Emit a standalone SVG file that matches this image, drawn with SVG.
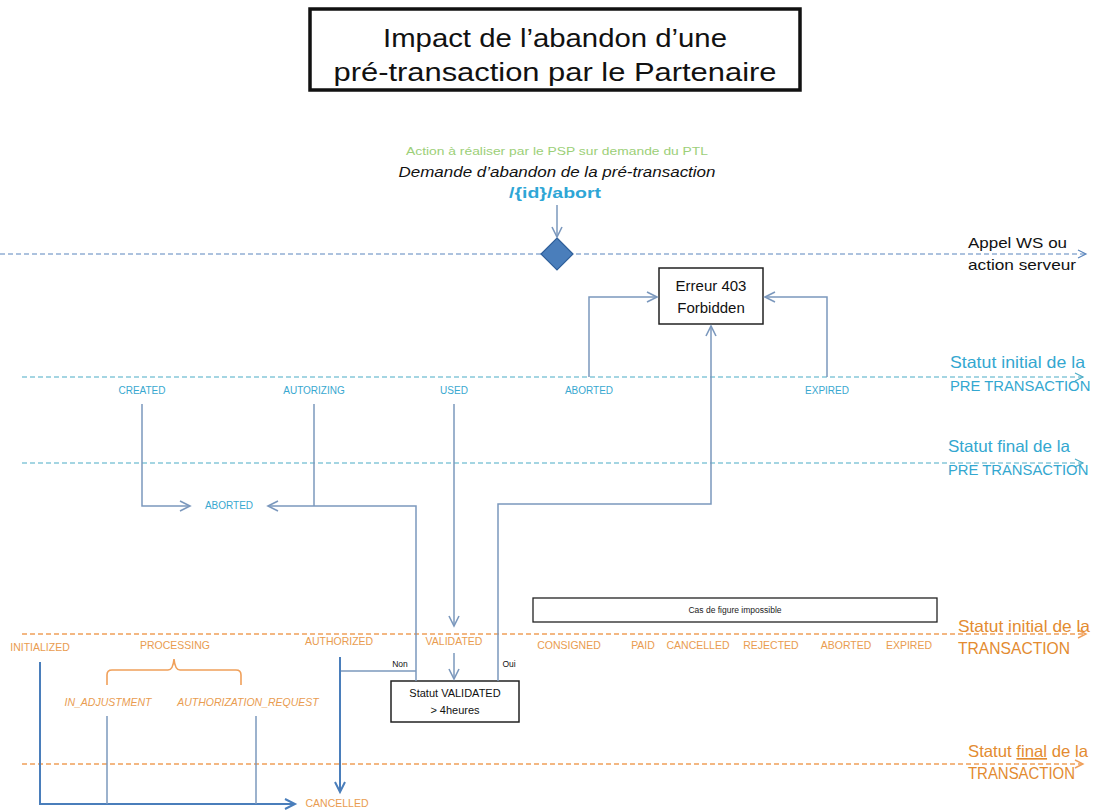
<svg xmlns="http://www.w3.org/2000/svg" width="1099" height="810" viewBox="0 0 1099 810">
<style>
text{font-family:"Liberation Sans",Arial,sans-serif}
.ttl{font-size:26px;fill:#111;text-anchor:middle}
.tl{font-size:10px;fill:#38a8d0;text-anchor:middle}
.ol{font-size:10.5px;fill:#e99c50;text-anchor:middle}
.oi{font-size:10.5px;fill:#e99c50;text-anchor:middle;font-style:italic}
.tr{font-size:16.5px;fill:#33a7d0}
.trs{font-size:14.8px;fill:#33a7d0}
.or{font-size:16.5px;fill:#e38b30}
.bk{font-size:15px;fill:#111}
.c{fill:none;stroke:#7b98bd;stroke-width:1.5}
.cb{fill:none;stroke:#4a7ebb;stroke-width:2}
.dblue{fill:none;stroke:#5b86bd;stroke-width:1.2;stroke-dasharray:5,3}
.dteal{fill:none;stroke:#4bacc6;stroke-width:1.2;stroke-dasharray:5,3}
.dor{fill:none;stroke:#f0a05a;stroke-width:1.4;stroke-dasharray:5,3}
.box{fill:#fff;stroke:#222;stroke-width:1.5}
</style>
<defs>
<marker id="ag" markerUnits="userSpaceOnUse" markerWidth="14" markerHeight="14" refX="11" refY="6" orient="auto"><path d="M1,1 L11,6 L1,11" fill="none" stroke="#7b98bd" stroke-width="1.6"/></marker>
<marker id="ab" markerUnits="userSpaceOnUse" markerWidth="14" markerHeight="14" refX="11" refY="6" orient="auto"><path d="M1,1 L11,6 L1,11" fill="none" stroke="#4a7ebb" stroke-width="2"/></marker>
<marker id="adb" markerUnits="userSpaceOnUse" markerWidth="12" markerHeight="12" refX="9" refY="5" orient="auto"><path d="M1,1 L9,5 L1,9" fill="none" stroke="#5b86bd" stroke-width="1.2"/></marker>
<marker id="adt" markerUnits="userSpaceOnUse" markerWidth="12" markerHeight="12" refX="9" refY="5" orient="auto"><path d="M1,1 L9,5 L1,9" fill="none" stroke="#4bacc6" stroke-width="1.2"/></marker>
<marker id="ado" markerUnits="userSpaceOnUse" markerWidth="12" markerHeight="12" refX="9" refY="5" orient="auto"><path d="M1,1 L9,5 L1,9" fill="none" stroke="#f0a05a" stroke-width="1.4"/></marker>
</defs>
<rect width="1099" height="810" fill="#fff"/>

<g id="title">
<rect x="310" y="9" width="490" height="81" fill="#fff" stroke="#111" stroke-width="3.5"/>
<text class="ttl" x="555" y="47" textLength="344" lengthAdjust="spacingAndGlyphs">Impact de l’abandon d’une</text>
<text class="ttl" x="555" y="81" textLength="443" lengthAdjust="spacingAndGlyphs">pré-transaction par le Partenaire</text>
</g>

<g id="lanes">
<path class="dblue" d="M0,254 H1086" marker-end="url(#adb)"/>
<path class="dteal" d="M22,377 H1083" marker-end="url(#adt)"/>
<path class="dteal" d="M22,463 H1083" marker-end="url(#adt)"/>
<path class="dor" d="M22,634 H1086" marker-end="url(#ado)"/>
<path class="dor" d="M22,764 H1083" marker-end="url(#ado)"/>
<text class="bk" x="968" y="248" textLength="99" lengthAdjust="spacingAndGlyphs">Appel WS ou</text>
<text class="bk" x="968" y="270" textLength="108" lengthAdjust="spacingAndGlyphs">action serveur</text>
<text class="tr" x="950" y="368" textLength="135" lengthAdjust="spacingAndGlyphs">Statut initial de la</text>
<text class="trs" x="950" y="391">PRE TRANSACTION</text>
<text class="tr" x="948" y="452" textLength="122" lengthAdjust="spacingAndGlyphs">Statut final de la</text>
<text class="trs" x="948" y="475">PRE TRANSACTION</text>
<text class="or" x="958" y="632" textLength="132" lengthAdjust="spacingAndGlyphs">Statut initial de la</text>
<text class="or" x="958" y="654" textLength="112" lengthAdjust="spacingAndGlyphs">TRANSACTION</text>
<text class="or" x="968" y="757" textLength="120" lengthAdjust="spacingAndGlyphs">Statut <tspan text-decoration="underline">final</tspan> de la</text>
<text class="or" x="968" y="779" textLength="107" lengthAdjust="spacingAndGlyphs">TRANSACTION</text>
</g>

<g id="request">
<text x="557" y="155" font-size="11" fill="#9ccf78" text-anchor="middle" textLength="302" lengthAdjust="spacingAndGlyphs">Action à réaliser par le PSP sur demande du PTL</text>
<text x="557" y="177" font-size="15" fill="#111" font-style="italic" text-anchor="middle" textLength="317" lengthAdjust="spacingAndGlyphs">Demande d’abandon de la pré-transaction</text>
<text x="555" y="198" font-size="15" fill="#2ea6d6" font-weight="bold" text-anchor="middle" textLength="92" lengthAdjust="spacingAndGlyphs">/{id}/abort</text>
</g>

<g id="decision">
<path d="M557,238 L573,254 L557,270 L541,254 Z" fill="#4a7ebb" stroke="#2f5f9a" stroke-width="1.2"/>
</g>

<g id="erreur403">
<rect class="box" x="659" y="268" width="104" height="56"/>
<text class="bk" x="711" y="291" text-anchor="middle">Erreur 403</text>
<text class="bk" x="711" y="313" text-anchor="middle">Forbidden</text>
</g>

<g id="pre-initial">
<text class="tl" x="142" y="394">CREATED</text>
<text class="tl" x="314" y="394">AUTORIZING</text>
<text class="tl" x="454" y="394">USED</text>
<text class="tl" x="589" y="394">ABORTED</text>
<text class="tl" x="827" y="394">EXPIRED</text>
</g>

<g id="pre-final">
<text class="tl" x="229" y="509">ABORTED</text>
</g>

<g id="impossible">
<rect x="533" y="598" width="404" height="24" fill="#fff" stroke="#222" stroke-width="1.3"/>
<text x="735" y="613" font-size="8.5" fill="#222" text-anchor="middle">Cas de figure impossible</text>
</g>

<g id="tx-initial">
<text class="ol" x="40" y="651">INITIALIZED</text>
<text class="ol" x="175" y="649">PROCESSING</text>
<path d="M107,685 V675 Q107,670 112,670 H168 Q173,670 174,659 Q175,670 180,670 H236 Q241,670 241,675 V685" fill="none" stroke="#f0a05a" stroke-width="1.6"/>
<text class="oi" x="108" y="706">IN_ADJUSTMENT</text>
<text class="oi" x="248" y="706">AUTHORIZATION_REQUEST</text>
<text class="ol" x="339" y="645">AUTHORIZED</text>
<text class="ol" x="454" y="645">VALIDATED</text>
<text class="ol" x="569" y="649">CONSIGNED</text>
<text class="ol" x="643" y="649">PAID</text>
<text class="ol" x="698" y="649">CANCELLED</text>
<text class="ol" x="771" y="649">REJECTED</text>
<text class="ol" x="846" y="649">ABORTED</text>
<text class="ol" x="909" y="649">EXPIRED</text>
</g>

<g id="tx-final">
<text class="ol" x="337" y="807">CANCELLED</text>
</g>

<g id="validated-check">
<rect class="box" x="391" y="681" width="128" height="41"/>
<text x="455" y="697" font-size="11" fill="#111" text-anchor="middle">Statut VALIDATED</text>
<text x="455" y="714" font-size="11" fill="#111" text-anchor="middle">&gt; 4heures</text>
<text x="400" y="667" font-size="8.5" fill="#111" text-anchor="middle">Non</text>
<text x="509" y="667" font-size="8.5" fill="#111" text-anchor="middle">Oui</text>
</g>

<g id="connectors">
<path class="c" d="M557,205 V237" marker-end="url(#ag)"/>
<path class="c" d="M589,377 V297 H657" marker-end="url(#ag)"/>
<path class="c" d="M827,377 V297 H765" marker-end="url(#ag)"/>
<path class="c" d="M142,404 V506 H190" marker-end="url(#ag)"/>
<path class="c" d="M314,404 V506"/>
<path class="c" d="M416,681 V506 H268" marker-end="url(#ag)"/>
<path class="c" d="M454,404 V626" marker-end="url(#ag)"/>
<path class="c" d="M454,653 V679" marker-end="url(#ag)"/>
<path class="c" d="M498,681 V504 H711 V326" marker-end="url(#ag)"/>
<path class="c" d="M416,671 H340"/>
<path class="cb" d="M340,657 V792" marker-end="url(#ab)"/>
<path class="cb" d="M40,662 V804 H295" marker-end="url(#ab)"/>
<path class="c" d="M107,716 V804"/>
<path class="c" d="M256,716 V804"/>
</g>
</svg>
